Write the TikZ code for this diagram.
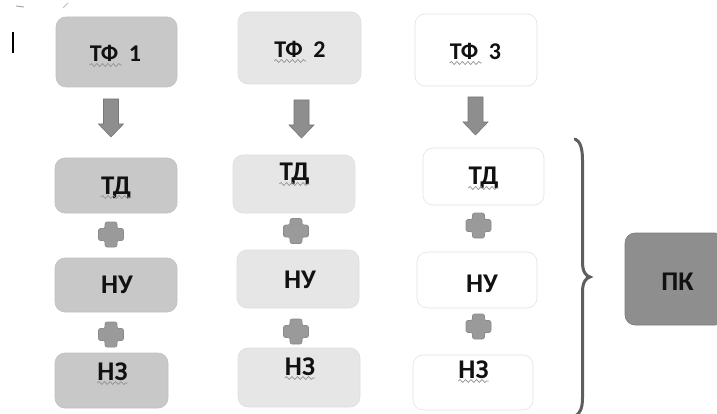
\documentclass[tikz,border=0pt]{standalone}
\usepackage{fontspec}
\setmainfont{Carlito}
\usetikzlibrary{calc,decorations.pathmorphing}
\definecolor{fillA}{HTML}{C8C8C8}
\definecolor{drawA}{HTML}{C0C0C0}
\definecolor{fillB}{HTML}{E6E6E6}
\definecolor{drawB}{HTML}{DEDEDE}
\definecolor{drawC}{HTML}{E2E2E2}
\definecolor{fillK}{HTML}{8E8E8E}
\definecolor{drawK}{HTML}{7C7C7C}
\definecolor{arrowfill}{HTML}{8E8E8E}
\definecolor{arrowdraw}{HTML}{777777}
\definecolor{plusfill}{HTML}{9A9A9A}
\definecolor{plusdraw}{HTML}{8A8A8A}
\definecolor{txt}{HTML}{111111}
\definecolor{bracecol}{HTML}{5E5E5E}
\tikzset{
  box/.style={rounded corners=10pt, line width=0.6pt, inner sep=0pt},
  boxA/.style={box, fill=fillA, draw=drawA},
  boxB/.style={box, fill=fillB, draw=drawB},
  boxC/.style={box, fill=white, draw=drawC},
  boxK/.style={box, fill=fillK, draw=drawK},
  lblT/.style={inner sep=0pt, anchor=base, text=txt, font=\bfseries\fontsize{24}{24}\selectfont},
  lbl/.style={inner sep=0pt, anchor=base, text=txt, font=\bfseries\fontsize{27}{27}\selectfont},
  wavy/.style={draw=gray!85, line width=0.7pt, decorate, decoration={snake, amplitude=1.5pt, segment length=5.5pt}},
  arrowst/.style={fill=arrowfill, draw=arrowdraw, line width=0.6pt},
  plusst/.style={fill=plusfill, draw=plusdraw, line width=0.6pt, rounded corners=2pt},
  downarrow/.pic={\filldraw[arrowst] (-7.5,0) -- (7.5,0) -- (7.5,25) -- (12.5,25) -- (0,38) -- (-12.5,25) -- (-7.5,25) -- cycle;},
  plussign/.pic={\filldraw[plusst] (-6,-12.5) -- (6,-12.5) -- (6,-6) -- (12.5,-6) -- (12.5,6) -- (6,6) -- (6,12.5) -- (-6,12.5) -- (-6,6) -- (-12.5,6) -- (-12.5,-6) -- (-6,-6) -- cycle;}
}
\begin{document}
\begin{tikzpicture}[x=1pt,y=-1pt]
\useasboundingbox (0,0) rectangle (717,414);
\clip (0,0) rectangle (717,414);
% small marks at top left
\draw[line width=1.1pt, black] (13,32) -- (13,53);
\draw[line width=1pt, gray!70] (16,6) -- (24,7);
\draw[line width=0.8pt, gray!50] (63,8) -- (68,3);
% column 1
\node[boxA, minimum width=121pt, minimum height=70pt] (tf1) at (116.5,52) {};
\node[boxA, minimum width=122pt, minimum height=55pt] (td1) at (116,185.5) {};
\node[boxA, minimum width=122pt, minimum height=54pt] (nu1) at (116,285) {};
\node[boxA, minimum width=113pt, minimum height=55pt] (nz1) at (111.5,380.5) {};
% column 2
\node[boxB, minimum width=123pt, minimum height=72pt] (tf2) at (299.5,48) {};
\node[boxB, minimum width=122pt, minimum height=58pt] (td2) at (294,184) {};
\node[boxB, minimum width=122pt, minimum height=58pt] (nu2) at (298,279) {};
\node[boxB, minimum width=122pt, minimum height=59pt] (nz2) at (299,377.5) {};
% column 3
\node[boxC, minimum width=122pt, minimum height=72pt] (tf3) at (476,50) {};
\node[boxC, minimum width=121pt, minimum height=57pt] (td3) at (483.5,176.5) {};
\node[boxC, minimum width=120pt, minimum height=56pt] (nu3) at (477,280) {};
\node[boxC, minimum width=120pt, minimum height=55pt] (nz3) at (473,382.5) {};
% result
\node[boxK, minimum width=100pt, minimum height=92pt] (pk) at (675,279) {};
% labels
\node[lblT] (tf1t) at (115.5,62) {ТФ~~1};
\node[lblT] (tf2t) at (300,58) {ТФ~~2};
\node[lblT] (tf3t) at (475.5,60) {ТФ~~3};
\node[lbl] (td1t) at (116,194) {ТД};
\node[lbl] (td2t) at (294.5,181) {ТД};
\node[lbl] (td3t) at (483.5,185) {ТД};
\node[lbl] (nu1t) at (117,293) {НУ};
\node[lbl] (nu2t) at (300,288) {НУ};
\node[lbl] (nu3t) at (482,292) {НУ};
\node[lbl] (nz1t) at (112.5,380) {НЗ};
\node[lbl] (nz2t) at (300,375) {НЗ};
\node[lbl] (nz3t) at (473.5,378) {НЗ};
\node[lbl] (pkt) at (677.5,290) {ПК};
% wavy underlines
\foreach \t in {tf1t,tf2t,tf3t}{
  \draw[wavy] ($(\t.base west)+(0,3)$) -- ++(32,0);
}
\foreach \t in {td1t,td2t,td3t,nz1t,nz2t,nz3t,pkt}{
  \draw[wavy] ($(\t.base west)+(0,3)$) -- ($(\t.base east)+(0,3)$);
}
% down arrows between ТФ and ТД
\coordinate (a1) at (111,99);
\coordinate (a2) at (301.5,100);
\coordinate (a3) at (475.5,97);
\pic at (a1) {downarrow};
\pic at (a2) {downarrow};
\pic at (a3) {downarrow};
% plus signs
\coordinate (p11) at (111,234.5);
\coordinate (p12) at (111,334.5);
\coordinate (p21) at (296,231);
\coordinate (p22) at (296,331.5);
\coordinate (p31) at (478.5,225.5);
\coordinate (p32) at (478.5,326.5);
\foreach \p in {p11,p12,p21,p22,p31,p32}{\pic at (\p) {plussign};}
% brace
\coordinate (btop) at (575,139);
\coordinate (btip) at (590,277);
\coordinate (bbot) at (575,416);
\draw[bracecol, line width=3pt, line cap=round]
  (btop) .. controls (580,141) and (582.5,148) .. (582.5,160)
  -- (582.5,262) .. controls (582.5,272) and (586,276) .. (btip)
  .. controls (586,278) and (582.5,282) .. (582.5,292)
  -- (582.5,398) .. controls (582.5,408) and (580,414) .. (bbot);
\end{tikzpicture}
\end{document}
